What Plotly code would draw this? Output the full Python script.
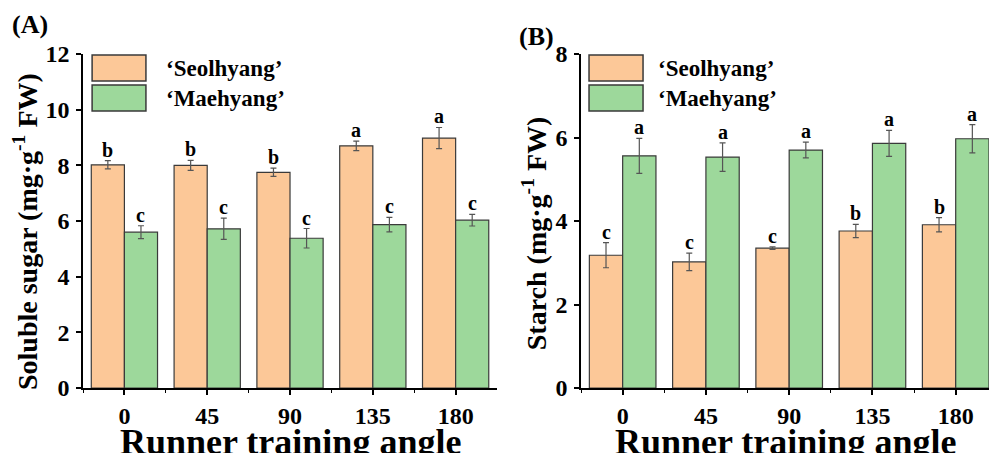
import plotly.graph_objects as go

categories = ["0", "45", "90", "135", "180"]
series_names = ["\u2018Seolhyang\u2019", "\u2018Maehyang\u2019"]

sugar_seol = [8.02, 8.00, 7.75, 8.70, 8.98]
sugar_seol_err = [0.15, 0.18, 0.15, 0.17, 0.38]
sugar_mae = [5.60, 5.72, 5.38, 5.87, 6.03]
sugar_mae_err = [0.23, 0.38, 0.35, 0.26, 0.21]
sugar_seol_letters = ["b", "b", "b", "a", "a"]
sugar_mae_letters = ["c", "c", "c", "c", "c"]

starch_seol = [3.18, 3.02, 3.35, 3.76, 3.91]
starch_seol_err = [0.30, 0.21, 0.03, 0.16, 0.17]
starch_mae = [5.56, 5.53, 5.70, 5.86, 5.97]
starch_mae_err = [0.42, 0.34, 0.19, 0.31, 0.34]
starch_seol_letters = ["c", "c", "c", "b", "b"]
starch_mae_letters = ["a", "a", "a", "a", "a"]

x_title = "Runner training angle"
y_titles = ["Soluble sugar (mg\u00b7g<sup>-1</sup> FW)", "Starch (mg\u00b7g<sup>-1</sup> FW)"]

ORANGE = "#FCC898"
GREEN = "#9DD89B"
EDGE = "#3a3a3a"
FONT = "Liberation Serif"

xpos = list(range(len(categories)))
fig = go.Figure()

panels = [
    ("x", "y", [sugar_seol, sugar_mae], [sugar_seol_err, sugar_mae_err],
     [sugar_seol_letters, sugar_mae_letters]),
    ("x2", "y2", [starch_seol, starch_mae], [starch_seol_err, starch_mae_err],
     [starch_seol_letters, starch_mae_letters]),
]
colors = [ORANGE, GREEN]
bar_w = 0.4
annotations = []
for xa, ya, vals, errs, letters in panels:
    for k in range(2):
        fig.add_trace(go.Bar(
            x=xpos, y=vals[k], name=series_names[k], xaxis=xa, yaxis=ya,
            offsetgroup=str(k), width=bar_w, offset=-bar_w + k * bar_w,
            marker=dict(color=colors[k], line=dict(color=EDGE, width=1.2)),
            error_y=dict(type="data", array=errs[k], color="#555555",
                         thickness=1.2, width=3),
            showlegend=False,
        ))
        for i in range(len(categories)):
            annotations.append(dict(
                x=xpos[i] - bar_w / 2 + k * bar_w, y=vals[k][i] + errs[k][i],
                xref=xa, yref=ya, text=letters[k][i], showarrow=False,
                yanchor="bottom", yshift=-2,
                font=dict(family=FONT, size=20, color="black", weight="bold"),
            ))

# custom legends (large swatches)
shapes = []
for dom_x, dom_y, sx0, sx1, tx in [("x domain", "y domain", 0.022, 0.152, 0.195),
                                   ("x2 domain", "y2 domain", 0.0196, 0.152, 0.183)]:
    for k, (y0, y1) in enumerate([(0.919, 0.997), (0.829, 0.907)]):
        shapes.append(dict(type="rect", xref=dom_x, yref=dom_y, x0=sx0, x1=sx1,
                           y0=y0, y1=y1, fillcolor=colors[k],
                           line=dict(color=EDGE, width=1.5)))
        annotations.append(dict(x=tx, y=(y0 + y1) / 2, xref=dom_x, yref=dom_y,
                                text=series_names[k], showarrow=False,
                                xanchor="left", yanchor="middle",
                                font=dict(family=FONT, size=23, color="black",
                                          weight="bold")))

# x-axis titles (clipped at the bottom edge as in the reference)
for dom_x in ["x domain", "x2 domain"]:
    annotations.append(dict(x=0.5, y=-0.096, xref=dom_x, yref="paper", text=x_title,
                            showarrow=False, xanchor="center", yanchor="top",
                            font=dict(family=FONT, size=36, color="black", weight="bold")))

# y-axis titles
for (px, py), txt in zip([(-0.064, 0.467), (0.498, 0.464)], y_titles):
    annotations.append(dict(x=px, y=py, xref="paper", yref="paper", text=txt,
                            textangle=-90, showarrow=False, xanchor="center",
                            yanchor="middle",
                            font=dict(family=FONT, size=28, color="black", weight="bold")))

annotations.append(dict(x=-0.0806, y=1.087, xref="paper", yref="paper", text="(A)",
                        showarrow=False, xanchor="left", yanchor="middle",
                        font=dict(family=FONT, size=26, color="black", weight="bold")))
annotations.append(dict(x=0.479, y=1.051, xref="paper", yref="paper", text="(B)",
                        showarrow=False, xanchor="left", yanchor="middle",
                        font=dict(family=FONT, size=26, color="black", weight="bold")))

tickfont = dict(family=FONT, size=24, color="black", weight="bold")
xcommon = dict(
    tickmode="array", tickvals=xpos, ticktext=categories, tickfont=tickfont,
    showline=True, linecolor="black", linewidth=1.5, ticks="outside",
    ticklen=5, tickwidth=1.5, tickcolor="black", showgrid=False, zeroline=False,
    automargin=False,
    minor=dict(tickmode="array", tickvals=[p + 0.5 for p in xpos[:-1]] + [-0.5],
               ticks="outside", ticklen=3, tickcolor="black", tickwidth=1),
)
ycommon = dict(
    tickfont=tickfont, showline=True, linecolor="black", linewidth=1.5,
    ticks="outside", ticklen=5, tickwidth=1.5, tickcolor="black",
    showgrid=False, zeroline=False, automargin=False, ticklabelstandoff=2,
)

fig.update_layout(
    width=989, height=453,
    margin=dict(l=83, r=0, t=54, b=65),
    paper_bgcolor="white", plot_bgcolor="white",
    barmode="group", bargap=0.2, bargroupgap=0,
    xaxis=dict(domain=[0, 0.457], range=[-0.5, 4.5], anchor="y", **xcommon),
    xaxis2=dict(domain=[0.5497, 1], range=[-0.5, 4.4], anchor="y2", **xcommon),
    yaxis=dict(domain=[0, 1], range=[0, 12], dtick=2, anchor="x", **ycommon),
    yaxis2=dict(domain=[0, 1], range=[0, 8], dtick=2, anchor="x2", **ycommon),
    annotations=annotations, shapes=shapes,
)

fig.write_html("out.html", config={"displayModeBar": False},
               post_script="document.body.style.margin='0';document.body.style.overflow='hidden';")
